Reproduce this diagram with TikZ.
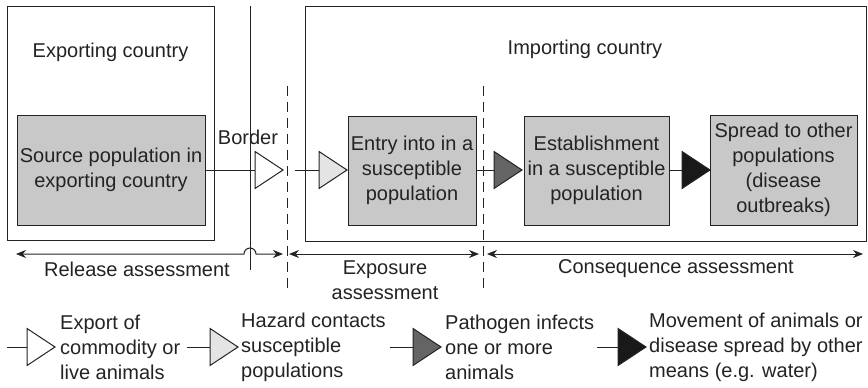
\documentclass[tikz,border=0pt]{standalone}
\usepackage{fontspec}
\setmainfont{Liberation Sans}
\usetikzlibrary{arrows.meta}

\definecolor{ink}{RGB}{35,35,35}
\definecolor{boxgray}{RGB}{200,200,200}
\definecolor{palegray}{RGB}{228,228,228}
\definecolor{darkgray2}{RGB}{100,100,100}
\definecolor{nearblack}{RGB}{25,25,25}

% triangle marker: name, x, y (mid of base), fill colour
\newcommand\flowtri[4]{%
  \coordinate (#1) at (#2,#3);
  \draw[trimark,fill=#4] (#1) -- ++(0,-18.5) -- ++(28,18.5) coordinate (#1-tip)
     -- ++(-28,18.5) -- cycle;
}

\tikzset{
  frame/.style={draw=ink,line width=1pt,inner sep=0pt},
  stagebox/.style={draw=ink,fill=boxgray,line width=1pt,inner sep=0pt,align=center},
  trimark/.style={draw=ink,line width=1pt,line join=miter},
  link/.style={draw=ink,line width=1pt},
  divider/.style={draw=ink,line width=1pt,dash pattern=on 10pt off 6pt},
  span/.style={draw=ink,line width=1pt,{Stealth[length=10pt,width=8pt]}-{Stealth[length=10pt,width=8pt]}},
  caption/.style={text=ink,inner sep=0pt,align=center},
  legendtext/.style={text=ink,inner sep=0pt,align=left,anchor=west},
}

\begin{document}
\begin{tikzpicture}[x=1pt,y=-1pt,font=\fontsize{20}{25}\selectfont,text=ink]
\useasboundingbox (0,0) rectangle (868,388);

% country frames
\node[frame,minimum width=207pt,minimum height=234pt] (exp) at (110.5,123) {};
\node[frame,minimum width=561pt,minimum height=235pt] (imp) at (585.5,123.5) {};
\node[caption] (explabel) at (110.5,52) {Exporting country};
\node[caption] (implabel) at (585,49) {Importing country};

% border and assessment dividers
\coordinate (bordertop) at (250,6);
\coordinate (borderbot) at (250,270);
\draw[link] (bordertop) -- (borderbot);
\coordinate (div1top) at (287,86);
\coordinate (div1bot) at (287,290);
\coordinate (div2top) at (483,86);
\coordinate (div2bot) at (483,290);
\draw[divider] (div1top) -- (div1bot);
\draw[divider] (div2top) -- (div2bot);
\node[caption] (borderlabel) at (248,137) {Border};

% stage boxes
\node[stagebox,minimum width=188pt,minimum height=110pt] (source) at (111,170)
  {Source population in\\exporting country};
\node[stagebox,minimum width=128pt,minimum height=109pt] (entry) at (412,170.5)
  {Entry into in a\\susceptible\\population};
\node[stagebox,minimum width=145pt,minimum height=109pt] (estab) at (596.5,170.5)
  {Establishment\\in a susceptible\\population};
\node[stagebox,minimum width=147pt,minimum height=110pt] (spread) at (783.5,170)
  {Spread to other\\populations\\(disease\\outbreaks)};

% pathway markers
\flowtri{tborder}{255}{170}{white}
\flowtri{tentry}{319}{170}{palegray}
\flowtri{testab}{494}{170}{darkgray2}
\flowtri{tspread}{682}{170}{nearblack}
\coordinate (entrystart) at (295,170);
\draw[link] (source.east |- tborder) -- (tborder);
\draw[link] (entrystart) -- (tentry);
\draw[link] (entry.east |- testab) -- (testab);
\draw[link] (estab.east |- tspread) -- (tspread);

% assessment spans
\coordinate (relL) at (16,254);
\coordinate (relR) at (283,254);
\coordinate (expL) at (289,254);
\coordinate (expR) at (479,254);
\coordinate (conL) at (487,254);
\coordinate (conR) at (863,254);
\draw[span] (relL) -- (244,254) arc[start angle=180,end angle=360,radius=6] -- (relR);
\draw[span] (expL) -- (expR);
\draw[span] (conL) -- (conR);
\node[caption] (rellabel) at (137,269) {Release assessment};
\node[caption] (explabel2) at (385,280) {Exposure\\assessment};
\node[caption] (conlabel) at (676,269) {Consequence assessment};

% legend
\flowtri{lg1}{27}{347}{white}
\flowtri{lg2}{210}{347}{palegray}
\flowtri{lg3}{413}{347}{darkgray2}
\flowtri{lg4}{618}{347}{nearblack}
\coordinate (lg1in) at (7,347);
\coordinate (lg2in) at (187,347);
\coordinate (lg3in) at (390,347);
\coordinate (lg4in) at (597,347);
\draw[link] (lg1in) -- (lg1);
\draw[link] (lg2in) -- (lg2);
\draw[link] (lg3in) -- (lg3);
\draw[link] (lg4in) -- (lg4);
\node[legendtext] (lt1) at (60,347) {Export of\\commodity or\\live animals};
\node[legendtext] (lt2) at (241,347) {Hazard contacts\\susceptible\\populations};
\node[legendtext] (lt3) at (445,347) {Pathogen infects\\one or more\\animals};
\node[legendtext] (lt4) at (649,347) {Movement of animals or\\disease spread by other\\means (e.g. water)};
\end{tikzpicture}
\end{document}
